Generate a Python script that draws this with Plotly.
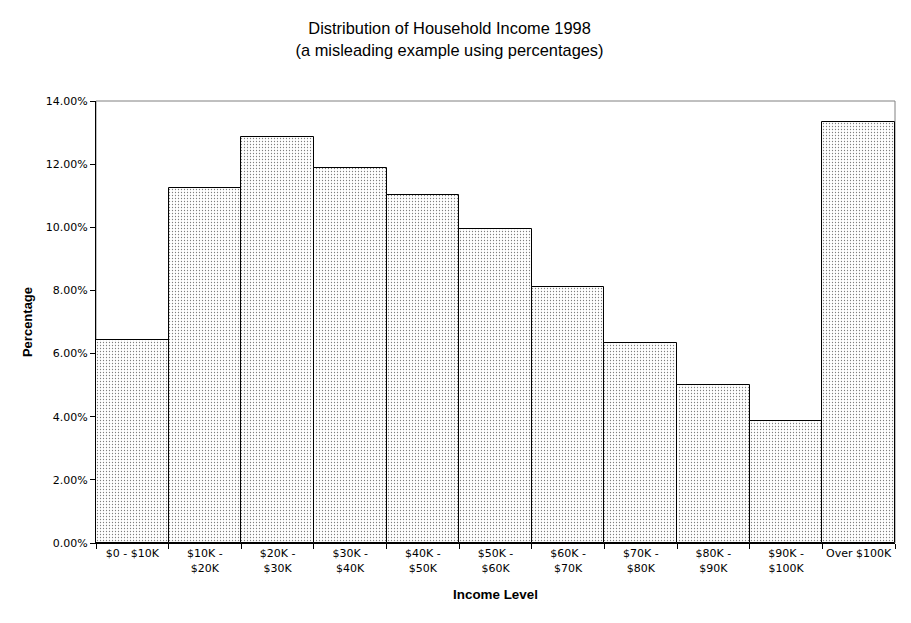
import plotly.graph_objects as go

# income brackets and share of households
categories = ['$0 - $10K', '$10K -<br>$20K', '$20K -<br>$30K', '$30K -<br>$40K',
              '$40K -<br>$50K', '$50K -<br>$60K', '$60K -<br>$70K', '$70K -<br>$80K',
              '$80K -<br>$90K', '$90K -<br>$100K', 'Over $100K']
percentages = [6.42, 11.26, 12.87, 11.87, 11.03, 9.94, 8.10, 6.32, 5.00, 3.87, 13.32]
y_ticks = [0, 2, 4, 6, 8, 10, 12, 14]
y_tick_labels = ['%.2f%%' % v for v in y_ticks]

sans = 'Liberation Sans, Arial, sans-serif'
tick_font = 'DejaVu Sans, Verdana, sans-serif'

fig = go.Figure()
fig.add_trace(go.Bar(
    x=categories,
    y=percentages,
    marker=dict(
        color='white',
        line=dict(color='black', width=1),
        pattern=dict(shape='.', fgcolor='black', bgcolor='white', size=3, solidity=0.14),
    ),
))

# page body has an 8px margin, so the figure is shrunk by that much
fig.update_layout(
    width=903, height=615,
    paper_bgcolor='white', plot_bgcolor='white',
    margin=dict(l=88, r=16, t=93, b=80),
    bargap=0,
    showlegend=False,
    font=dict(family=sans, size=11, color='black'),
    title=dict(
        text='Distribution of Household Income 1998<br>(a misleading example using percentages)',
        x=0.489, xanchor='center', y=0.957, yanchor='top',
        font=dict(family=sans, size=16.4, color='black'),
    ),
)

fig.update_xaxes(
    automargin=False,
    tickangle=0,
    showline=True, linecolor='black', linewidth=1,
    ticks='outside', tickson='boundaries', ticklen=5, tickcolor='black',
    tickfont=dict(family=tick_font, size=11),
    title=dict(text='<b>Income Level</b>', font=dict(family=sans, size=13.4), standoff=16),
)
fig.update_yaxes(
    automargin=False,
    range=[0, 14],
    tickvals=y_ticks, ticktext=y_tick_labels,
    showgrid=False, zeroline=False,
    showline=True, linecolor='black', linewidth=1,
    ticks='outside', ticklen=5, tickcolor='black',
    tickfont=dict(family=tick_font, size=11),
    title=dict(text='<b>Percentage</b>', font=dict(family=sans, size=13), standoff=10),
)

# grey frame around top and right of plot area
fig.add_shape(type='rect', xref='paper', yref='paper', x0=0, x1=1, y0=0, y1=1,
              line=dict(color='grey', width=1), layer='below')

fig.write_html('out.html')
